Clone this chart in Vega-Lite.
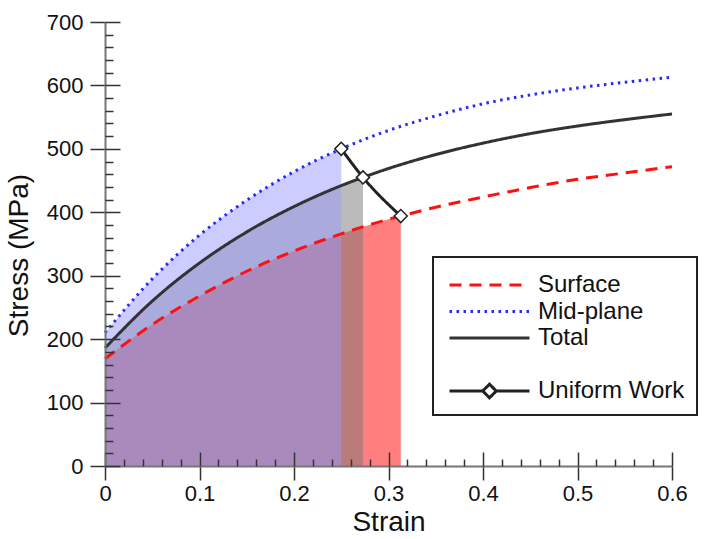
{
  "$schema": "https://vega.github.io/schema/vega-lite/v6.json",
  "autosize": {"type": "none"},
  "width": 567,
  "height": 444,
  "padding": {"left": 105, "top": 22, "right": 32, "bottom": 73},
  "background": "white",
  "config": {
    "view": {"stroke": null},
    "font": "Liberation Sans"
  },
  "data": {
    "values": [
      {"series": "Mid-plane", "x": 0, "y": 210},
      {"series": "Mid-plane", "x": 0.05, "y": 295},
      {"series": "Mid-plane", "x": 0.1, "y": 364},
      {"series": "Mid-plane", "x": 0.15, "y": 419},
      {"series": "Mid-plane", "x": 0.2, "y": 464},
      {"series": "Mid-plane", "x": 0.25, "y": 500},
      {"series": "Mid-plane", "x": 0.3, "y": 529},
      {"series": "Mid-plane", "x": 0.35, "y": 552},
      {"series": "Mid-plane", "x": 0.4, "y": 571},
      {"series": "Mid-plane", "x": 0.45, "y": 585},
      {"series": "Mid-plane", "x": 0.5, "y": 596},
      {"series": "Mid-plane", "x": 0.55, "y": 605},
      {"series": "Mid-plane", "x": 0.6, "y": 613},
      {"series": "Total", "x": 0, "y": 186},
      {"series": "Total", "x": 0.05, "y": 260},
      {"series": "Total", "x": 0.1, "y": 320},
      {"series": "Total", "x": 0.15, "y": 369},
      {"series": "Total", "x": 0.2, "y": 409},
      {"series": "Total", "x": 0.25, "y": 442},
      {"series": "Total", "x": 0.273, "y": 455},
      {"series": "Total", "x": 0.3, "y": 469},
      {"series": "Total", "x": 0.35, "y": 491},
      {"series": "Total", "x": 0.4, "y": 509},
      {"series": "Total", "x": 0.45, "y": 524},
      {"series": "Total", "x": 0.5, "y": 536},
      {"series": "Total", "x": 0.55, "y": 546},
      {"series": "Total", "x": 0.6, "y": 555},
      {"series": "Surface", "x": 0, "y": 169},
      {"series": "Surface", "x": 0.05, "y": 223},
      {"series": "Surface", "x": 0.1, "y": 268},
      {"series": "Surface", "x": 0.15, "y": 307},
      {"series": "Surface", "x": 0.2, "y": 339},
      {"series": "Surface", "x": 0.25, "y": 366},
      {"series": "Surface", "x": 0.3, "y": 389},
      {"series": "Surface", "x": 0.313, "y": 394},
      {"series": "Surface", "x": 0.35, "y": 408},
      {"series": "Surface", "x": 0.4, "y": 424},
      {"series": "Surface", "x": 0.45, "y": 439},
      {"series": "Surface", "x": 0.5, "y": 452},
      {"series": "Surface", "x": 0.55, "y": 462},
      {"series": "Surface", "x": 0.6, "y": 472},
      {"series": "Uniform Work", "x": 0.25, "y": 500},
      {"series": "Uniform Work", "x": 0.273, "y": 455},
      {"series": "Uniform Work", "x": 0.313, "y": 394}
    ]
  },
  "resolve": {"axis": {"x": "independent", "y": "independent"}},
  "layer": [
    {
      "transform": [{"filter": "datum.series === 'Surface' && datum.x <= 0.3135"}],
      "mark": {"type": "area", "color": "#FF0000", "opacity": 0.5, "interpolate": "monotone"},
      "encoding": {
        "x": {"field": "x", "type": "quantitative", "scale": {"domain": [0, 0.6], "nice": false, "zero": false},
          "axis": {"orient": "bottom", "values": [0, 0.1, 0.2, 0.3, 0.4, 0.5, 0.6], "format": "~g", "grid": false,
            "domainColor": "#777777", "domainWidth": 2, "tickColor": "#333333", "tickWidth": 1.5, "tickSize": 14,
            "labelFontSize": 22, "labelColor": "#111111", "labelPadding": 3, "labelFlush": false,
            "title": "Strain", "titleFontSize": 28, "titleFontWeight": "normal", "titleColor": "#111111", "titlePadding": 4, "zindex": 1}},
        "y": {"field": "y", "type": "quantitative", "stack": null, "scale": {"domain": [0, 700], "nice": false},
          "axis": {"orient": "left", "values": [0, 100, 200, 300, 400, 500, 600, 700], "format": "d", "grid": false,
            "domainColor": "#777777", "domainWidth": 2, "tickColor": "#333333", "tickWidth": 1.5, "tickSize": 15,
            "labelFontSize": 22, "labelColor": "#111111", "labelPadding": 7, "labelFlush": false,
            "title": "Stress (MPa)", "titleFontSize": 28, "titleFontWeight": "normal", "titleColor": "#111111", "titlePadding": 13, "titleY": 233, "zindex": 1}}
      }
    },
    {
      "transform": [{"filter": "datum.series === 'Total' && datum.x <= 0.2735"}],
      "mark": {"type": "area", "color": "#777777", "opacity": 0.5, "interpolate": "monotone"},
      "encoding": {
        "x": {"field": "x", "type": "quantitative",
          "axis": {"orient": "bottom", "values": [0, 0.1, 0.2, 0.3, 0.4, 0.5, 0.6], "labels": false, "domain": false, "grid": false,
            "tickColor": "#333333", "tickWidth": 1.5, "tickSize": -14, "title": null, "zindex": 1}},
        "y": {"field": "y", "type": "quantitative", "stack": null,
          "axis": {"orient": "left", "values": [0, 100, 200, 300, 400, 500, 600, 700], "labels": false, "domain": false, "grid": false,
            "tickColor": "#333333", "tickWidth": 1.5, "tickSize": -15, "title": null, "zindex": 1}}
      }
    },
    {
      "transform": [{"filter": "datum.series === 'Mid-plane' && datum.x <= 0.2505"}],
      "mark": {"type": "area", "color": "#9999FF", "opacity": 0.5, "interpolate": "monotone"},
      "encoding": {
        "x": {"field": "x", "type": "quantitative",
          "axis": {"orient": "bottom", "values": [0.02, 0.04, 0.06, 0.08, 0.12, 0.14, 0.16, 0.18, 0.22, 0.24, 0.26, 0.28, 0.32, 0.34, 0.36, 0.38, 0.42, 0.44, 0.46, 0.48, 0.52, 0.54, 0.56, 0.58],
            "labels": false, "domain": false, "grid": false, "tickColor": "#333333", "tickWidth": 1.5, "tickSize": -7, "title": null, "zindex": 1}},
        "y": {"field": "y", "type": "quantitative", "stack": null,
          "axis": {"orient": "left", "values": [20, 40, 60, 80, 120, 140, 160, 180, 220, 240, 260, 280, 320, 340, 360, 380, 420, 440, 460, 480, 520, 540, 560, 580, 620, 640, 660, 680],
            "labels": false, "domain": false, "grid": false, "tickColor": "#333333", "tickWidth": 1.5, "tickSize": -8, "title": null, "zindex": 1}}
      }
    },
    {
      "mark": {"type": "line", "interpolate": "monotone"},
      "encoding": {
        "x": {"field": "x", "type": "quantitative", "axis": null},
        "y": {"field": "y", "type": "quantitative", "axis": null},
        "color": {"field": "series", "type": "nominal",
          "scale": {"domain": ["Surface", "Mid-plane", "Total", " ", "Uniform Work"], "range": ["#FF1010", "#2828FF", "#333333", "rgba(0,0,0,0)", "#222222"]},
          "legend": {
            "title": " ", "titleFontSize": 6, "titlePadding": 0,
            "orient": "none", "legendX": 328, "legendY": 235,
            "symbolType": "stroke", "symbolSize": 6400, "symbolStrokeWidth": 2.5, "symbolOffset": 3,
            "clipHeight": 20, "rowPadding": 2.5,
            "labelFontSize": 24, "labelOffset": 7, "labelColor": "#111111", "labelLimit": 300,
            "padding": 12, "strokeColor": "#222222", "fillColor": "white",
            "encode": {
              "symbols": {"update": {
                "shape": {"signal": "datum.value === 'Uniform Work' ? 'M-1,0L-0.17,0L0,-0.17L0.17,0L0,0.17L-0.17,0M0.17,0L1,0' : 'stroke'"},
                "fill": {"signal": "datum.value === 'Uniform Work' ? 'white' : 'transparent'"}
              }},
              "legend": {"update": {"strokeWidth": {"value": 2}}}
            }
          }},
        "strokeDash": {"field": "series", "type": "nominal",
          "scale": {"domain": ["Surface", "Mid-plane", "Total", " ", "Uniform Work"], "range": [[12, 8], [2.5, 4.5], [1, 0], [1, 0], [1, 0]]}},
        "strokeWidth": {"field": "series", "type": "nominal",
          "scale": {"domain": ["Surface", "Mid-plane", "Total", " ", "Uniform Work"], "range": [3, 3, 3.2, 2, 2]}, "legend": null}
      }
    },
    {
      "transform": [{"filter": "datum.series === 'Uniform Work'"}],
      "mark": {"type": "point", "shape": "diamond", "filled": true, "fill": "white", "stroke": "#222222", "strokeWidth": 1.5, "size": 170, "opacity": 1},
      "encoding": {
        "x": {"field": "x", "type": "quantitative", "axis": null},
        "y": {"field": "y", "type": "quantitative", "axis": null}
      }
    }
  ]
}
